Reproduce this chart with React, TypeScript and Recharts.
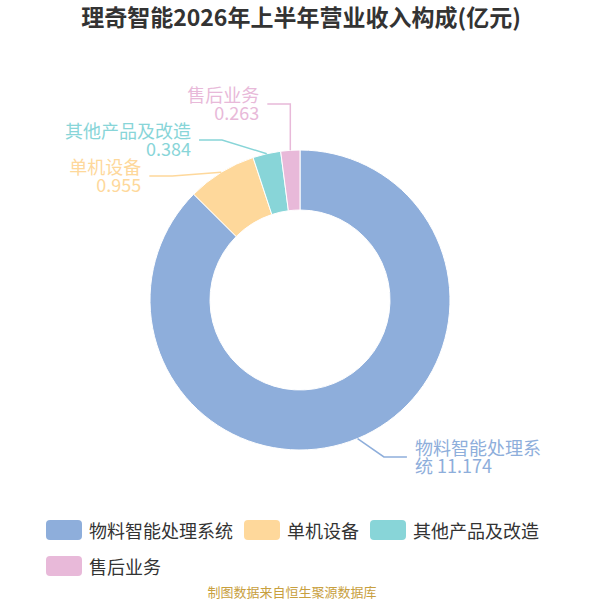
import React from 'react';
import { PieChart, Pie, Cell, Legend } from 'recharts';

const title = '理奇智能2026年上半年营业收入构成(亿元)';
const footer = '制图数据来自恒生聚源数据库';
const categories = ['物料智能处理系统', '单机设备', '其他产品及改造', '售后业务'];
const values = [11.174, 0.955, 0.384, 0.263];
const colors = ['#8eaedb', '#fed89b', '#88d5d8', '#e8b9d9'];

const FONT = '"Noto Sans CJK SC", "Noto Sans", sans-serif';
const CX = 300;
const CY = 300;
const OUTER = 150;
const INNER = 90;
const LEN1 = 20;
const LEN2 = 23;
const ELLIPSE_R = 178;
const LABEL_H = 36;
const LINE_H = 18;

const data = categories.map((name, i) => ({ name, value: values[i] }));

type LabelLayout = {
  sx: number;
  sy: number;
  ex: number;
  ey: number;
  tx: number;
  dir: number;
  lines: string[];
};

function charWidth(ch: string): number {
  if (/[\u4e00-\u9fff]/.test(ch)) return 18;
  if (ch === ' ') return 5;
  if (ch === '.') return 5;
  return 10;
}

function wrap(text: string, maxW: number): string[] {
  const out: string[] = [];
  let cur = '';
  let w = 0;
  for (const ch of text) {
    const cw = charWidth(ch);
    if (w + cw > maxW && cur.length > 0) {
      out.push(cur.trimEnd());
      cur = ch === ' ' ? '' : ch;
      w = ch === ' ' ? 0 : cw;
    } else {
      cur += ch;
      w += cw;
    }
  }
  if (cur) out.push(cur);
  return out;
}

function computeLayout(): LabelLayout[] {
  const total = values.reduce((a, b) => a + b, 0);
  let angle = 90;
  const items = values.map((v, i) => {
    const delta = (v / total) * 360;
    const mid = angle - delta / 2;
    angle -= delta;
    const c = Math.cos(mid * Math.PI / 180);
    const s = Math.sin(mid * Math.PI / 180);
    const dir = c >= 0 ? 1 : -1;
    return {
      i,
      dir,
      sx: CX + OUTER * c,
      sy: CY - OUTER * s,
      ny: CY - (OUTER + LEN1) * s,
      y: 0,
    };
  });
  [-1, 1].forEach((side) => {
    const list = items.filter((it) => it.dir === side).sort((a, b) => a.ny - b.ny);
    let clusters: typeof list[] = list.map((it) => [it]);
    const place = (cl: typeof list) => {
      const mean = cl.reduce((a, b) => a + b.ny, 0) / cl.length;
      cl.forEach((it, k) => {
        it.y = mean + (k - (cl.length - 1) / 2) * LABEL_H;
      });
    };
    clusters.forEach(place);
    let changed = true;
    while (changed) {
      changed = false;
      for (let k = 0; k < clusters.length - 1; k++) {
        const a = clusters[k];
        const b = clusters[k + 1];
        if (a[a.length - 1].y + LABEL_H > b[0].y) {
          const merged = [...a, ...b];
          place(merged);
          clusters.splice(k, 2, merged);
          changed = true;
          break;
        }
      }
    }
  });
  const result: LabelLayout[] = [];
  items.forEach((it) => {
    const dy = Math.abs(it.y - CY);
    const dx = Math.sqrt(Math.max(ELLIPSE_R * ELLIPSE_R - dy * dy, 0));
    let ex = CX + it.dir * dx;
    ex = it.dir < 0 ? Math.min(ex, it.sx) : Math.max(ex, it.sx);
    const endX = ex + it.dir * LEN2;
    const tx = endX + it.dir * 8;
    const name = categories[it.i];
    const val = String(values[it.i]);
    const lines = it.dir < 0 ? [name, val] : wrap(`${name} ${val}`, 130);
    result[it.i] = { sx: it.sx, sy: it.sy, ex, ey: it.y, tx, dir: it.dir, lines };
  });
  return result;
}

const layout = computeLayout();

const renderLabel = (props: any) => {
  const idx = props.index as number;
  const l = layout[idx];
  if (!l) return null;
  const color = colors[idx];
  const endX = l.ex + l.dir * LEN2;
  const n = l.lines.length;
  return (
    <g key={`lbl-${idx}`}>
      <polyline
        points={`${l.sx},${l.sy} ${l.ex},${l.ey} ${endX},${l.ey}`}
        fill="none"
        stroke={color}
        strokeWidth={1.5}
      />
      {l.lines.map((line, k) => (
        <text
          key={k}
          x={l.tx}
          y={l.ey - 1 + (k - (n - 1) / 2) * LINE_H}
          fill={color}
          fontSize={18}
          fontFamily={FONT}
          textAnchor={l.dir < 0 ? 'end' : 'start'}
          dominantBaseline="central"
        >
          {line}
        </text>
      ))}
    </g>
  );
};

const renderLegend = () => (
  <div
    style={{
      display: 'flex',
      flexWrap: 'wrap',
      width: 520,
      marginLeft: 46,
      rowGap: 16,
      fontFamily: FONT,
    }}
  >
    {categories.map((c, i) => (
      <div key={c} style={{ display: 'flex', alignItems: 'center', marginRight: 11, height: 20 }}>
        <div
          style={{
            width: 36,
            height: 20,
            borderRadius: 4,
            background: colors[i],
            marginRight: 7,
          }}
        />
        <span style={{ fontSize: 18, lineHeight: '20px', color: '#333', whiteSpace: 'nowrap' }}>{c}</span>
      </div>
    ))}
  </div>
);

export default function App() {
  return (
    <div
      style={{
        position: 'absolute',
        left: 0,
        top: 0,
        width: 600,
        height: 600,
        background: '#fff',
        fontFamily: FONT,
        overflow: 'hidden',
      }}
    >
      <div
        style={{
          position: 'absolute',
          left: 0,
          top: -2,
          width: 602,
          height: 36,
          lineHeight: '36px',
          textAlign: 'center',
          fontSize: 23,
          fontWeight: 'bold',
          color: '#333',
          zIndex: 2,
        }}
      >
        {title}
      </div>
      <PieChart width={600} height={600} margin={{ top: 0, right: 0, bottom: 0, left: 0 }}>
        <Pie
          data={data}
          dataKey="value"
          nameKey="name"
          cx={CX}
          cy={CY}
          innerRadius={INNER}
          outerRadius={OUTER}
          startAngle={90}
          endAngle={-270}
          stroke="#fff"
          strokeWidth={1}
          label={renderLabel}
          labelLine={false}
          isAnimationActive={false}
        >
          {data.map((d, i) => (
            <Cell key={d.name} fill={colors[i]} />
          ))}
        </Pie>
        <Legend
          content={renderLegend}
          wrapperStyle={{ position: 'absolute', left: 0, top: 520, width: 600, bottom: 'auto' }}
        />
      </PieChart>
      <div
        style={{
          position: 'absolute',
          left: 0,
          top: 582,
          width: 584,
          height: 20,
          lineHeight: '20px',
          textAlign: 'center',
          fontSize: 13,
          color: '#c8a03e',
        }}
      >
        {footer}
      </div>
    </div>
  );
}
